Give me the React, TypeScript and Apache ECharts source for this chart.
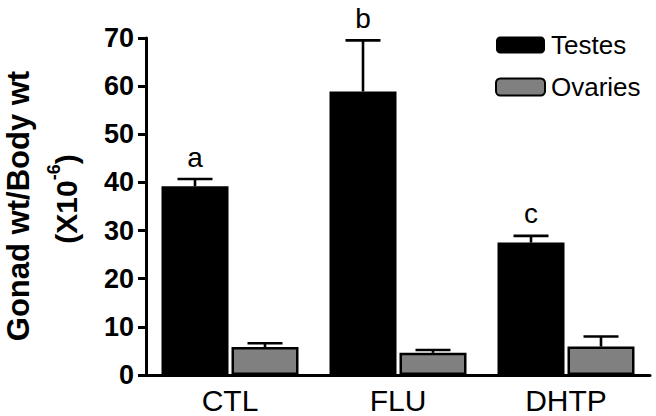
import React, { useEffect, useRef } from "react";
import * as echarts from "echarts";

const categories = ["CTL", "FLU", "DHTP"];
const seriesNames = ["Testes", "Ovaries"];
const testesMean = [39.2, 58.9, 27.5];
const testesSem = [1.5, 10.6, 1.4];
const ovariesMean = [5.8, 4.6, 5.9];
const ovariesSem = [0.8, 0.6, 2.1];
const sigLetters = ["a", "b", "c"];
const yMin = 0;
const yMax = 70;
const yInterval = 10;

const FONT = "'Liberation Sans', Arial, Helvetica, sans-serif";
const BAR_W = 67;
const BAR_GAP = 3;

function makeErrorSeries(name: string, means: number[], sems: number[], side: number, letters: string[] | null) {
  return {
    type: "custom",
    name: name + " SEM",
    z: 5,
    silent: true,
    data: means.map((m, i) => [i, m, sems[i]]),
    renderItem: (params: any, api: any) => {
      const idx = api.value(0);
      const mean = api.value(1);
      const sem = api.value(2);
      const base = api.coord([idx, mean]);
      const top = api.coord([idx, mean + sem]);
      const cx = base[0] + side * (BAR_W + BAR_GAP) / 2;
      const capHalf = 17.5;
      const style = { stroke: "#000", lineWidth: 2.6 };
      const children: any[] = [
        { type: "line", shape: { x1: cx, y1: base[1], x2: cx, y2: top[1] }, style },
        { type: "line", shape: { x1: cx - capHalf, y1: top[1], x2: cx + capHalf, y2: top[1] }, style },
      ];
      if (letters) {
        children.push({
          type: "text",
          x: cx,
          y: top[1] - 8,
          style: {
            text: letters[params.dataIndex],
            font: `28px ${FONT}`,
            fill: "#000",
            textAlign: "center",
            textVerticalAlign: "bottom",
          },
        });
      }
      return { type: "group", children };
    },
  };
}

export default function App() {
  const ref = useRef<HTMLDivElement>(null);
  useEffect(() => {
    if (!ref.current) return;
    const chart = echarts.init(ref.current, undefined, { renderer: "svg" });
    chart.setOption({
      animation: false,
      backgroundColor: "#fff",
      grid: { left: 146, right: 6, top: 38, bottom: 41 },
      legend: {
        orient: "vertical",
        left: 490,
        top: 27,
        itemWidth: 49,
        itemHeight: 17,
        itemGap: 16,
        data: seriesNames,
        textStyle: { fontFamily: FONT, fontSize: 26, color: "#000", lineHeight: 26, padding: [0, 0, 0, 1] },
      },
      xAxis: {
        type: "category",
        data: categories,
        axisLine: { lineStyle: { color: "#000", width: 3 } },
        axisTick: { show: false },
        axisLabel: { fontFamily: FONT, fontSize: 30, lineHeight: 30, color: "#000", margin: 10 },
      },
      yAxis: {
        type: "value",
        min: yMin,
        max: yMax,
        interval: yInterval,
        splitLine: { show: false },
        axisLine: { show: true, lineStyle: { color: "#000", width: 3 } },
        axisTick: { show: true, length: 8, lineStyle: { color: "#000", width: 3 } },
        axisLabel: { fontFamily: FONT, fontSize: 27, fontWeight: "bold", color: "#000", margin: 12 },
      },
      graphic: [
        {
          type: "text",
          x: 18,
          y: 206,
          rotation: Math.PI / 2,
          style: {
            text: "Gonad wt/Body wt",
            font: `bold 31px ${FONT}`,
            fill: "#000",
            textAlign: "center",
            textVerticalAlign: "middle",
          },
        },
        {
          type: "text",
          x: 63,
          y: 199,
          rotation: Math.PI / 2,
          style: {
            text: "{n|(X10}{s|-6}{n|)}",
            textAlign: "center",
            textVerticalAlign: "middle",
            rich: {
              n: { fontFamily: FONT, fontSize: 30, fontWeight: "bold", fill: "#000", verticalAlign: "bottom", lineHeight: 36 },
              s: { fontFamily: FONT, fontSize: 18, fontWeight: "bold", fill: "#000", verticalAlign: "top", lineHeight: 36 },
            },
          },
        },
      ],
      series: [
        {
          type: "bar",
          name: seriesNames[0],
          data: testesMean,
          barWidth: BAR_W,
          barGap: `${(BAR_GAP / BAR_W) * 100}%`,
          itemStyle: { color: "#000", borderColor: "#000", borderWidth: 0 },
        },
        {
          type: "bar",
          name: seriesNames[1],
          data: ovariesMean,
          barWidth: BAR_W,
          barGap: `${(BAR_GAP / BAR_W) * 100}%`,
          itemStyle: { color: "#808080", borderColor: "#000", borderWidth: 2.5 },
        },
        makeErrorSeries(seriesNames[0], testesMean, testesSem, -1, sigLetters),
        makeErrorSeries(seriesNames[1], ovariesMean, ovariesSem, 1, null),
      ],
    });
    return () => chart.dispose();
  }, []);
  return (
    <div
      ref={ref}
      style={{ position: "absolute", left: 0, top: 0, width: 656, height: 416 }}
    />
  );
}
